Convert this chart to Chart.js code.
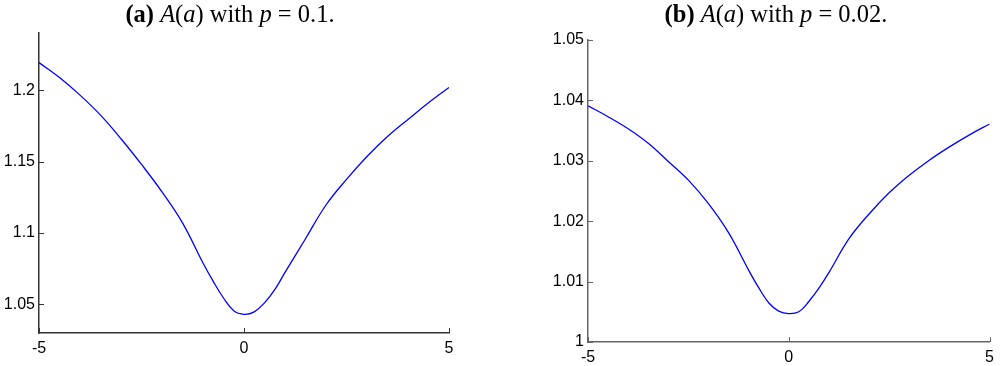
<!DOCTYPE html>
<html lang="en">
<head>
    <meta charset="UTF-8">
    <title>A(a) for p = 0.1 and p = 0.02</title>
    <script src="https://cdn.jsdelivr.net/npm/chart.js"></script>
    <style>
        body {
            margin: 0;
            background-color: #ffffff;
            width: 1000px;
            height: 366px;
            position: relative;
            overflow: hidden;
        }
        .panel {
            position: absolute;
            top: 0;
            height: 366px;
        }
        .title {
            position: absolute;
            top: 0;
            font-family: "Liberation Serif", "Times New Roman", serif;
            font-size: 24.5px;
            line-height: 28px;
            color: #000000;
            white-space: nowrap;
            transform: translateX(-50%);
        }
        .title i { font-style: italic; }
    </style>
</head>
<body>
    <div class="panel" style="left:0;width:470px;"><canvas id="chartA"></canvas></div>
    <div class="panel" style="left:500px;width:500px;"><canvas id="chartB"></canvas></div>
    <div class="title" style="left:230px;"><b>(a)</b> <i>A</i>(<i>a</i>) with <i>p</i> = 0.1.</div>
    <div class="title" style="left:776px;"><b>(b)</b> <i>A</i>(<i>a</i>) with <i>p</i> = 0.02.</div>

    <script>
        // values
        const aValues = [-5, -4.5, -4, -3.5, -3, -2.5, -2, -1.5, -1, -0.75, -0.5, -0.25, 0,
                         0.25, 0.5, 0.75, 1, 1.5, 2, 2.5, 3, 3.5, 4, 4.5, 5];
        const seriesP01 = [1.2193, 1.2088, 1.1965, 1.1825, 1.1660, 1.1480, 1.1288, 1.1071, 1.0790, 1.0661, 1.0545, 1.0456, 1.0431,
                           1.0448, 1.0511, 1.0603, 1.0724, 1.0960, 1.1196, 1.1375, 1.1535, 1.1675, 1.1795, 1.1912, 1.2019];
        const seriesP002 = [1.0391, 1.0373, 1.0353, 1.0329, 1.0299, 1.0268, 1.0229, 1.0181, 1.0119, 1.0090, 1.0065, 1.0051, 1.0047,
                            1.0050, 1.0067, 1.0089, 1.0115, 1.0171, 1.0212, 1.0247, 1.0276, 1.0301, 1.0323, 1.0343, 1.0361];
        const xTicks = [-5, 0, 5];
        const yTicksA = [1.05, 1.1, 1.15, 1.2];
        const yTicksB = [1, 1.01, 1.02, 1.03, 1.04, 1.05];

        // matlab style ticks pointing into the plot
        const inwardTicks = {
            id: 'inwardTicks',
            afterDraw(chart) {
                const ctx = chart.ctx;
                const area = chart.chartArea;
                const x = chart.scales.x, y = chart.scales.y;
                ctx.save();
                ctx.strokeStyle = chart.options.axisColor;
                ctx.lineWidth = 1;
                ctx.beginPath();
                x.ticks.forEach(t => {
                    const px = Math.round(x.getPixelForValue(t.value)) + 0.5;
                    ctx.moveTo(px, area.bottom);
                    ctx.lineTo(px, area.bottom - 5);
                });
                y.ticks.forEach(t => {
                    const py = Math.round(y.getPixelForValue(t.value)) + 0.5;
                    ctx.moveTo(area.left, py);
                    ctx.lineTo(area.left + 5, py);
                });
                ctx.stroke();
                ctx.restore();
            }
        };

        const plainNumber = v => String(+Number(v).toFixed(4));

        function makeChart(id, values, yMin, yMax, yTicks, pad, yWidth, xHeight, axisColor) {
            return new Chart(document.getElementById(id), {
                type: 'line',
                data: {
                    datasets: [{
                        data: aValues.map((a, i) => ({ x: a, y: values[i] })),
                        borderColor: '#0000ff',
                        borderWidth: 1.3,
                        pointRadius: 0,
                        tension: 0.4,
                        fill: false
                    }]
                },
                options: {
                    responsive: true,
                    maintainAspectRatio: false,
                    animation: false,
                    axisColor: axisColor,
                    layout: { padding: pad },
                    plugins: {
                        legend: { display: false },
                        tooltip: { enabled: false }
                    },
                    scales: {
                        x: {
                            type: 'linear',
                            min: -5,
                            max: 5,
                            afterBuildTicks: s => { s.ticks = xTicks.map(v => ({ value: v })); },
                            afterFit: s => { s.height = xHeight; },
                            grid: { display: false, drawTicks: false },
                            border: { display: true, color: axisColor, width: 1.5 },
                            ticks: {
                                color: '#000000',
                                padding: 6,
                                maxRotation: 0,
                                callback: plainNumber,
                                font: { family: 'Liberation Sans, Arial, sans-serif', size: 16 }
                            }
                        },
                        y: {
                            min: yMin,
                            max: yMax,
                            afterBuildTicks: s => { s.ticks = yTicks.map(v => ({ value: v })); },
                            afterFit: s => { s.width = yWidth; },
                            grid: { display: false, drawTicks: false },
                            border: { display: true, color: axisColor, width: 1.5 },
                            ticks: {
                                color: '#000000',
                                padding: 4,
                                callback: plainNumber,
                                font: { family: 'Liberation Sans, Arial, sans-serif', size: 16 }
                            }
                        }
                    }
                },
                plugins: [inwardTicks]
            });
        }

        makeChart('chartA', seriesP01, 1.03, 1.24, yTicksA, { top: 33, right: 21, left: 0, bottom: 0 }, 39, 33, '#333333');
        makeChart('chartB', seriesP002, 1, 1.05, yTicksB, { top: 40, right: 7, left: 0, bottom: 0 }, 88, 24, '#666666');
    </script>
</body>
</html>
